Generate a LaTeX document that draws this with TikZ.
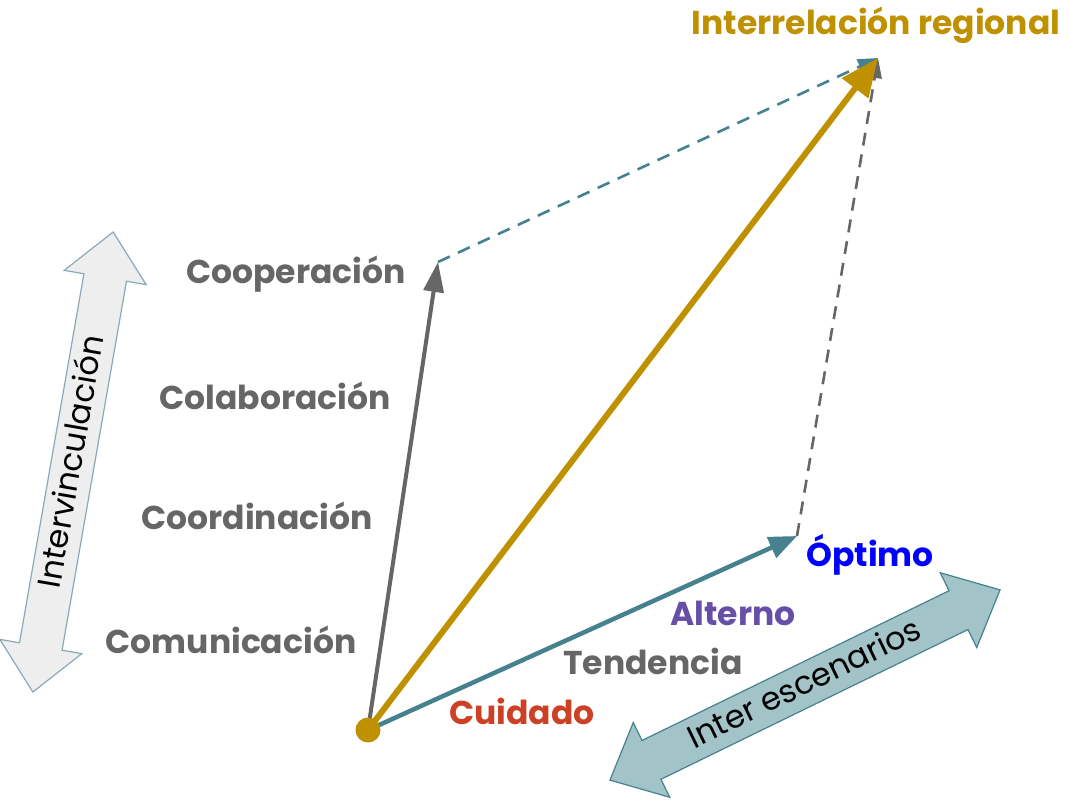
\documentclass[tikz,border=0pt]{standalone}
\usepackage{fontspec}
\setmainfont{Poppins}
\usetikzlibrary{arrows.meta, positioning, shapes.arrows}
\definecolor{dkgray}{HTML}{666666}
\definecolor{ocre}{HTML}{BF9000}
\definecolor{petrol}{HTML}{45818E}
\definecolor{paleteal}{HTML}{A2C4C9}
\definecolor{palegray}{HTML}{EEEEEE}
\definecolor{slate}{HTML}{8DA8B5}
\definecolor{rojo}{HTML}{CC4125}
\definecolor{morado}{HTML}{674EA7}

\begin{document}
\begin{tikzpicture}[x=1pt,y=-1pt,
  lbl/.style={font=\fontsize{33}{36}\selectfont\bfseries, text=dkgray},
  band/.style={double arrow, inner sep=0pt, minimum height=#1,
    text height=30pt, text depth=12pt,
    minimum width=82pt, double arrow head extend=20pt,
    double arrow tip angle=84, line width=1.2pt,
    font=\fontsize{32}{36}\selectfont},
  dashline/.style={line width=2.6pt, dash pattern=on 13pt off 9pt}]
  \useasboundingbox (0,0) rectangle (1070,800);

  % tips of the vectors
  \coordinate (o)    at (368,730);
  \coordinate (coop) at (438,262);
  \coordinate (opt)  at (797,536);
  \coordinate (reg)  at (878,58);

  % parallelogram closure
  \draw[petrol, dashline, -{Triangle[length=20pt,width=15pt]}] (coop) -- (reg);
  \draw[dkgray, dashline, -{Triangle[length=20pt,width=14pt]}] (opt) -- (reg);

  % the three vectors
  \draw[dkgray, line width=4pt, -{Triangle[length=30pt,width=20pt]}] (o) -- (coop);
  \draw[petrol, line width=4.5pt, -{Triangle[length=28pt,width=22pt]}] (o) -- (opt);
  \draw[ocre, line width=6pt, -{Triangle[length=38pt,width=32pt]}] (o) -- (reg);
  \fill[ocre] (o) circle (12.5);

  % labels
  \node[lbl, text=ocre] (regional) at (876,25) {Interrelación regional};
  \node[lbl] (coopl) at (296,274) {Cooperación};
  \node[lbl] (colab) at (275,396) {Colaboración};
  \node[lbl] (coord) at (257,516) {Coordinación};
  \node[lbl] (comun) at (231,640) {Comunicación};
  \node[lbl, text=blue] (optimo) at (870,555) {Óptimo};
  \node[lbl, text=morado] (alterno) at (733,613) {Alterno};
  \node[lbl] (tend) at (653,661) {Tendencia};
  \node[lbl, text=rojo] (cuid) at (522,711) {Cuidado};

  % side bands
  \node[band=467pt, draw=slate, fill=palegray, rotate=80.1] (interv) at (73,462) {Intervinculación};
  \node[band=434pt, draw=petrol, fill=paleteal, rotate=26] (intesc) at (805,685) {Inter escenarios};
\end{tikzpicture}
\end{document}
